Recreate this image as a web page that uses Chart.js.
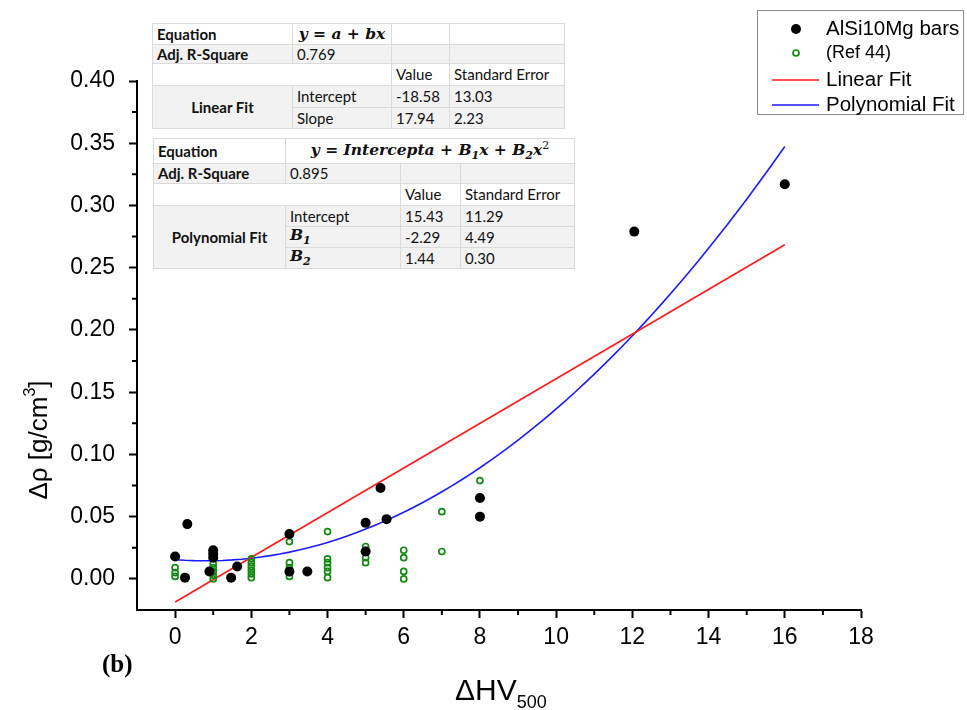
<!DOCTYPE html>
<html>
<head>
<meta charset="utf-8">
<script src="https://cdn.jsdelivr.net/npm/chart.js@4.4.1/dist/chart.umd.min.js"></script>
<style>
  body { margin: 0; background: #fff; }
  #wrap { position: relative; width: 967px; height: 710px; overflow: hidden; }
  #chart { position: absolute; left: 0; top: 0; }
  table.fit {
    position: absolute; border-collapse: collapse; table-layout: fixed;
    font-family: Lato, 'Open Sans', sans-serif; font-size: 15px; color: #111; background: #fff;
  }
  table.fit td { border: 1px solid #dadada; padding: 0 4px; white-space: nowrap; overflow: hidden; line-height: 1; }
  table.fit tr.shade td { background: #f2f2f2; }
  table.fit .b { font-weight: bold; }
  table.fit .c { text-align: center; }
  table.fit .eq { font-family: 'DejaVu Serif', 'Liberation Serif', serif; font-weight: bold; font-style: italic; text-align: center; font-size: 15.5px; }
  table.fit .eq sup, table.fit .eq sub { font-size: 11px; }
  table.fit .eq sup { font-weight: normal; font-style: normal; }
</style>
</head>
<body>
<div id="wrap">
  <canvas id="chart" width="967" height="710"></canvas>
  <table class="fit" id="linTable" style="left:152px; top:23px; width:412px;"></table>
  <table class="fit" id="polyTable" style="left:153px; top:138px; width:421px;"></table>
</div>
<script>
// AlSi10Mg bars: hardness change vs density change
const barsX = [0, 0.26, 0.32, 0.9, 1, 1, 1, 1.47, 1.63, 3, 3, 3.47, 5, 5, 5.39, 5.55, 8, 8, 12.05, 16];
const barsY = [0.018, 0.001, 0.044, 0.006, 0.017, 0.020, 0.023, 0.001, 0.010, 0.036, 0.006, 0.006, 0.045, 0.022, 0.073, 0.048, 0.065, 0.050, 0.279, 0.317];

// literature values (Ref 44)
const refX = [0, 0, 0,
  1, 1, 1, 1, 1,
  2, 2, 2, 2, 2, 2,
  3, 3, 3, 3, 3,
  4, 4, 4, 4, 4, 4,
  5, 5, 5, 5,
  6, 6, 6, 6,
  7, 7,
  8];
const refY = [0.009, 0.005, 0.002,
  0.012, 0.009, 0.006, 0.003, 0.000,
  0.016, 0.013, 0.010, 0.007, 0.004, 0.001,
  0.030, 0.013, 0.009, 0.005, 0.002,
  0.038, 0.016, 0.013, 0.009, 0.006, 0.001,
  0.026, 0.023, 0.017, 0.013,
  0.023, 0.017, 0.006, 0.000,
  0.054, 0.022,
  0.079];

// fit results, coefficients in units of 1e-3 g/cm3
const linNames = ['Intercept', 'Slope'];
const linValues = [-18.58, 17.94];
const linErrors = [13.03, 2.23];
const linR2 = 0.769;
const polyNames = ['Intercept', '<i class="eq">B<sub>1</sub></i>', '<i class="eq">B<sub>2</sub></i>'];
const polyValues = [15.43, -2.29, 1.44];
const polyErrors = [11.29, 4.49, 0.30];
const polyR2 = 0.895;
const fitRange = [0, 16];

const xMajor = [0, 2, 4, 6, 8, 10, 12, 14, 16, 18];
const xMinor = [1, 3, 5, 7, 9, 11, 13, 15, 17];
const yMajor = [0, 0.05, 0.10, 0.15, 0.20, 0.25, 0.30, 0.35, 0.40];
const yMinor = [0.025, 0.075, 0.125, 0.175, 0.225, 0.275, 0.325, 0.375];

const evalPoly = (c, x) => c.reduce((s, k, i) => s + k * Math.pow(x, i), 0) / 1000;

const linPts = fitRange.map(x => ({ x, y: evalPoly(linValues, x) }));
const polyPts = [];
for (let x = fitRange[0]; x <= fitRange[1] + 1e-9; x += 0.25) polyPts.push({ x, y: evalPoly(polyValues, x) });

// ---- fit tables
const fmt = v => v.toFixed(2);
document.getElementById('linTable').innerHTML =
  '<colgroup><col style="width:140px"><col style="width:99px"><col style="width:58px"><col style="width:115px"></colgroup>' +
  '<tr style="height:21px"><td class="b">Equation</td><td class="eq">y = a + bx</td><td></td><td></td></tr>' +
  `<tr class="shade" style="height:19px"><td class="b">Adj. R-Square</td><td>${linR2.toFixed(3)}</td><td></td><td></td></tr>` +
  '<tr style="height:22px"><td colspan="2"></td><td>Value</td><td>Standard Error</td></tr>' +
  linNames.map((n, i) => `<tr class="shade" style="height:${i ? 21 : 22}px">` +
    (i === 0 ? `<td rowspan="${linNames.length}" class="b c">Linear Fit</td>` : '') +
    `<td>${n}</td><td>${fmt(linValues[i])}</td><td>${fmt(linErrors[i])}</td></tr>`).join('');

document.getElementById('polyTable').innerHTML =
  '<colgroup><col style="width:132px"><col style="width:115px"><col style="width:60px"><col style="width:114px"></colgroup>' +
  '<tr style="height:25px"><td class="b">Equation</td><td class="eq" colspan="3">y = Intercepta + B<sub>1</sub>x + B<sub>2</sub>x<sup>2</sup></td></tr>' +
  `<tr class="shade" style="height:20px"><td class="b">Adj. R-Square</td><td>${polyR2.toFixed(3)}</td><td></td><td></td></tr>` +
  '<tr style="height:22px"><td colspan="2"></td><td>Value</td><td>Standard Error</td></tr>' +
  polyNames.map((n, i) => `<tr class="shade" style="height:21px">` +
    (i === 0 ? `<td rowspan="${polyNames.length}" class="b c">Polynomial Fit</td>` : '') +
    `<td>${n}</td><td>${fmt(polyValues[i])}</td><td>${fmt(polyErrors[i])}</td></tr>`).join('');

// ---- chart
const FONT = "'Liberation Sans', Arial, sans-serif";

// minor ticks, axis titles, panel letter and legend
const decorations = {
  id: 'decorations',
  afterDraw(chart) {
    const ctx = chart.ctx;
    const xs = chart.scales.x, ys = chart.scales.y;
    ctx.save();
    ctx.strokeStyle = '#000';
    ctx.lineWidth = 2;
    ctx.beginPath();
    xMinor.forEach(v => { const px = xs.getPixelForValue(v); ctx.moveTo(px, xs.top); ctx.lineTo(px, xs.top + 5); });
    yMinor.forEach(v => { const py = ys.getPixelForValue(v); ctx.moveTo(ys.right, py); ctx.lineTo(ys.right - 5, py); });
    ctx.stroke();

    ctx.fillStyle = '#000';
    ctx.textBaseline = 'alphabetic';
    // y title
    ctx.save();
    ctx.translate(47, 440);
    ctx.rotate(-Math.PI / 2);
    const a = 'Δρ [g/cm', b = ']';
    ctx.font = `26px ${FONT}`; const wa = ctx.measureText(a).width, wb = ctx.measureText(b).width;
    ctx.font = `16px ${FONT}`; const w3 = ctx.measureText('3').width;
    const x0 = -(wa + w3 + wb) / 2;
    ctx.textAlign = 'left';
    ctx.font = `26px ${FONT}`; ctx.fillText(a, x0, 0);
    ctx.font = `16px ${FONT}`; ctx.fillText('3', x0 + wa, -12);
    ctx.font = `26px ${FONT}`; ctx.fillText(b, x0 + wa + w3, 0);
    ctx.restore();

    // x title
    ctx.textAlign = 'left';
    ctx.font = `30px ${FONT}`;
    ctx.fillText('ΔHV', 455, 700);
    const wh = ctx.measureText('ΔHV').width;
    ctx.font = `18px ${FONT}`;
    ctx.fillText('500', 455 + wh, 708);

    // panel letter
    ctx.font = `bold 25px 'Liberation Serif', 'Times New Roman', serif`;
    ctx.fillText('(b)', 102, 672);

    // legend
    ctx.lineWidth = 1;
    ctx.strokeStyle = '#8c8c8c';
    ctx.strokeRect(757.5, 10.5, 206, 104);
    const rowY = [29, 53, 80, 105];
    chart.data.datasets.forEach((ds, i) => {
      const y = rowY[i];
      if (ds.showLine) {
        ctx.strokeStyle = ds.borderColor; ctx.lineWidth = ds.borderWidth;
        ctx.beginPath(); ctx.moveTo(772, y); ctx.lineTo(819, y); ctx.stroke();
      } else {
        ctx.beginPath(); ctx.arc(796, y, ds.pointRadius, 0, Math.PI * 2);
        if (ds.pointBackgroundColor === 'transparent') {
          ctx.strokeStyle = ds.pointBorderColor; ctx.lineWidth = ds.pointBorderWidth; ctx.stroke();
        } else { ctx.fillStyle = ds.pointBackgroundColor; ctx.fill(); }
      }
      ctx.fillStyle = '#000';
      ctx.font = `${i === 1 ? 18 : 20.5}px ${FONT}`;
      ctx.textBaseline = 'middle';
      ctx.fillText(ds.label, 826, y);
    });
    ctx.restore();
  }
};

new Chart(document.getElementById('chart'), {
  type: 'scatter',
  data: {
    datasets: [
      {
        label: 'AlSi10Mg bars',
        data: barsX.map((x, i) => ({ x, y: barsY[i] })),
        pointRadius: 5, pointBackgroundColor: '#000', pointBorderWidth: 0, pointBorderColor: '#000'
      },
      {
        label: '(Ref 44)',
        data: refX.map((x, i) => ({ x, y: refY[i] })),
        pointRadius: 3, pointBackgroundColor: 'transparent', pointBorderColor: '#128a12', pointBorderWidth: 1.7
      },
      {
        label: 'Linear Fit', data: linPts, showLine: true,
        borderColor: '#ff1a1a', borderWidth: 1.6, pointRadius: 0, tension: 0
      },
      {
        label: 'Polynomial Fit', data: polyPts, showLine: true,
        borderColor: '#1a1aff', borderWidth: 1.6, pointRadius: 0, tension: 0
      }
    ]
  },
  options: {
    responsive: false,
    devicePixelRatio: 1,
    animation: false,
    layout: { padding: { top: 81, right: 106, left: 0, bottom: 0 } },
    plugins: { legend: { display: false }, tooltip: { enabled: false } },
    scales: {
      x: {
        type: 'linear', min: -1, max: 18,
        afterBuildTicks: s => { s.ticks = xMajor.map(v => ({ value: v })); },
        afterFit: s => { s.height = 100; },
        ticks: { autoSkip: false, maxRotation: 0, color: '#000', padding: 6, font: { family: FONT, size: 23 } },
        grid: { drawOnChartArea: false, tickLength: 8, tickWidth: 2, tickColor: '#000' },
        border: { color: '#000', width: 2 }
      },
      y: {
        type: 'linear', min: -0.025, max: 0.40,
        afterBuildTicks: s => { s.ticks = yMajor.map(v => ({ value: v })); },
        afterFit: s => { s.width = 137; },
        ticks: { autoSkip: false, color: '#000', padding: 14, font: { family: FONT, size: 23 }, callback: v => v.toFixed(2) },
        grid: { drawOnChartArea: false, tickLength: 8, tickWidth: 2, tickColor: '#000' },
        border: { color: '#000', width: 2 }
      }
    }
  },
  plugins: [decorations]
});
</script>
</body>
</html>
